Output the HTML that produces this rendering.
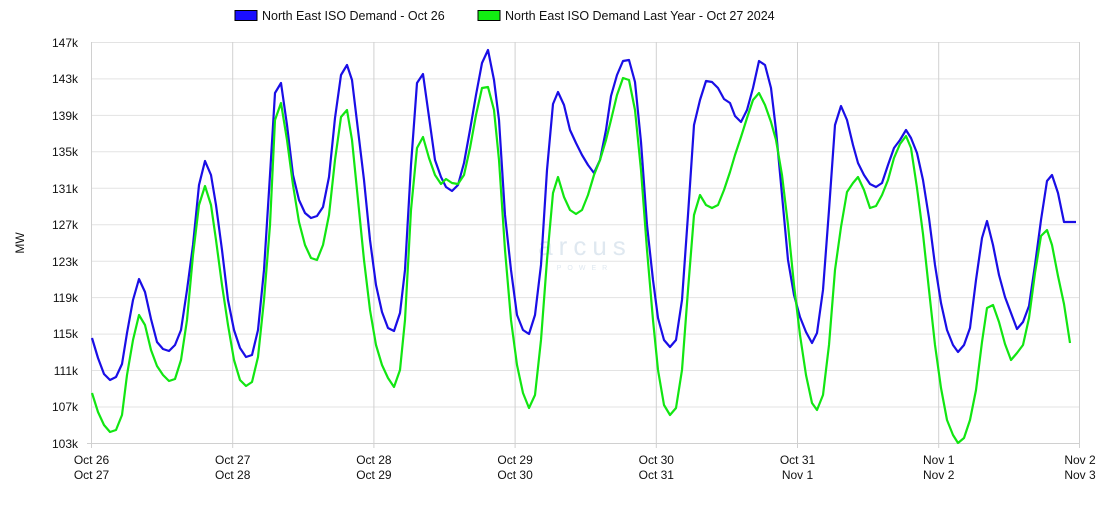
<!DOCTYPE html>
<html><head><meta charset="utf-8"><style>
body{margin:0;background:#fff;}
svg{font-family:"Liberation Sans",Arial,sans-serif;}
</style></head><body>
<svg width="1100" height="500" xmlns="http://www.w3.org/2000/svg">
<rect width="1100" height="500" fill="#fff"/>
<g stroke="#e3e3e3" stroke-width="1">
<line x1="91.5" x2="1080" y1="42.5" y2="42.5"/>
<line x1="91.5" x2="1080" y1="78.9" y2="78.9"/>
<line x1="91.5" x2="1080" y1="115.4" y2="115.4"/>
<line x1="91.5" x2="1080" y1="151.8" y2="151.8"/>
<line x1="91.5" x2="1080" y1="188.3" y2="188.3"/>
<line x1="91.5" x2="1080" y1="224.7" y2="224.7"/>
<line x1="91.5" x2="1080" y1="261.2" y2="261.2"/>
<line x1="91.5" x2="1080" y1="297.6" y2="297.6"/>
<line x1="91.5" x2="1080" y1="334.1" y2="334.1"/>
<line x1="91.5" x2="1080" y1="370.5" y2="370.5"/>
<line x1="91.5" x2="1080" y1="407" y2="407"/>
</g>
<g stroke="#d0d0d0" stroke-width="1">
<line x1="232.7" x2="232.7" y1="42" y2="448"/>
<line x1="373.9" x2="373.9" y1="42" y2="448"/>
<line x1="515.1" x2="515.1" y1="42" y2="448"/>
<line x1="656.3" x2="656.3" y1="42" y2="448"/>
<line x1="797.5" x2="797.5" y1="42" y2="448"/>
<line x1="938.7" x2="938.7" y1="42" y2="448"/>
<line x1="1079.5" x2="1079.5" y1="42" y2="448"/>
<line x1="91.5" x2="91.5" y1="42" y2="448"/>
<line x1="87" x2="1080" y1="443.5" y2="443.5"/>
</g>
<g font-size="12" fill="#111" text-anchor="end">
<text x="78" y="47">147k</text><text x="78" y="83">143k</text><text x="78" y="120">139k</text>
<text x="78" y="156">135k</text><text x="78" y="193">131k</text><text x="78" y="229">127k</text>
<text x="78" y="266">123k</text><text x="78" y="302">119k</text><text x="78" y="338">115k</text>
<text x="78" y="375">111k</text><text x="78" y="411">107k</text><text x="78" y="448">103k</text>
</g>
<g font-size="12" fill="#111" text-anchor="middle">
<text x="91.5" y="464">Oct 26</text><text x="91.5" y="479">Oct 27</text>
<text x="232.7" y="464">Oct 27</text><text x="232.7" y="479">Oct 28</text>
<text x="373.9" y="464">Oct 28</text><text x="373.9" y="479">Oct 29</text>
<text x="515.1" y="464">Oct 29</text><text x="515.1" y="479">Oct 30</text>
<text x="656.3" y="464">Oct 30</text><text x="656.3" y="479">Oct 31</text>
<text x="797.5" y="464">Oct 31</text><text x="797.5" y="479">Nov 1</text>
<text x="938.7" y="464">Nov 1</text><text x="938.7" y="479">Nov 2</text>
<text x="1080" y="464">Nov 2</text><text x="1080" y="479">Nov 3</text>
</g>
<text x="24" y="243" font-size="12" fill="#111" text-anchor="middle" transform="rotate(-90 24 243)">MW</text>
<text x="585" y="255" font-size="26" fill="#dfe8f0" text-anchor="middle" letter-spacing="6">arcus</text>
<text x="585" y="270" font-size="7" fill="#dfe8f0" text-anchor="middle" letter-spacing="6">POWER</text>
<polyline fill="none" stroke="#1a0ee6" stroke-width="2.2" stroke-linejoin="round" points="92,338 98,358 104,374 110,380 116,377 122,364 127,333 133,300 139,279 145,292 151,319 157,342 163,349 169,351 175,345 181,330 187,290 193,245 199,185 205,161 211,175 216,205 222,250 228,300 234,330 240,348 246,357 252,355 258,330 264,270 270,175 275,93 281,83 287,125 293,175 299,200 305,213 311,218 317,216 323,207 329,177 335,118 341,75 347,65 352,80 358,130 364,180 370,240 376,285 382,312 388,328 394,331 400,313 405,270 411,165 417,83 423,74 429,117 435,160 441,177 446,187 452,191 458,185 464,163 470,130 476,95 482,63 488,50 494,80 499,120 505,215 511,270 517,315 523,330 529,334 535,315 541,265 547,170 553,104 558,92 564,105 570,130 576,143 582,155 588,165 594,173 600,160 606,130 611,96 617,75 623,61 629,60 635,82 641,142 647,225 653,280 658,318 664,340 670,347 676,340 682,300 688,215 694,125 700,100 706,81 712,82 718,88 724,99 730,103 735,116 741,122 747,110 753,88 759,61 765,65 771,88 776,130 782,195 788,260 794,295 800,317 806,332 812,343 817,333 823,290 829,210 835,125 841,106 847,120 853,145 858,163 864,175 870,184 876,187 882,183 888,165 894,148 900,140 906,130 911,138 917,153 923,180 929,218 935,265 941,303 947,330 953,345 958,352 964,345 970,328 976,280 982,238 987,221 993,245 999,275 1005,297 1011,313 1017,329 1023,322 1029,306 1035,265 1041,220 1047,181 1052,175 1058,193 1064,222 1070,222 1076,222"/>
<polyline fill="none" stroke="#12e612" stroke-width="2.2" stroke-linejoin="round" points="92,393 98,412 104,425 110,432 116,430 122,415 127,375 133,340 139,315 145,325 151,350 157,366 163,375 169,381 175,379 181,360 187,320 193,255 199,205 205,186 211,205 216,240 222,285 228,325 234,360 240,380 246,386 252,382 258,357 264,300 270,225 275,120 281,103 287,140 293,185 299,222 305,245 311,258 317,260 323,245 329,215 335,160 341,117 347,110 352,140 358,200 364,260 370,310 376,345 382,365 388,378 394,387 400,370 405,320 411,210 417,148 423,137 429,158 435,175 441,184 446,179 452,183 458,184 464,175 470,148 476,115 482,88 488,87 494,110 499,160 505,250 511,320 517,365 523,393 529,408 535,395 541,340 547,260 553,193 558,177 564,197 570,210 576,214 582,210 588,195 594,175 600,160 606,140 611,120 617,95 623,78 629,80 635,110 641,170 647,250 653,320 658,370 664,405 670,415 676,408 682,370 688,290 694,215 700,195 706,205 712,208 718,205 724,190 730,172 735,155 741,137 747,118 753,100 759,93 765,105 771,122 776,140 782,175 788,225 794,285 800,335 806,375 812,403 817,410 823,395 829,345 835,270 841,227 847,192 853,183 858,177 864,190 870,208 876,206 882,195 888,180 894,158 900,144 906,136 911,148 917,188 923,234 929,290 935,345 941,388 947,420 953,435 958,443 964,438 970,420 976,390 982,342 987,308 993,305 999,322 1005,344 1011,360 1017,353 1023,345 1029,318 1035,273 1041,236 1047,230 1052,245 1058,276 1064,304 1070,343"/>
<rect x="235" y="10.5" width="22" height="10" fill="#1a0eff" stroke="#000" stroke-width="1"/>
<text x="262" y="20" font-size="12.5" fill="#111">North East ISO Demand - Oct 26</text>
<rect x="478" y="10.5" width="22" height="10" fill="#12ee12" stroke="#000" stroke-width="1"/>
<text x="505" y="20" font-size="12.5" fill="#111">North East ISO Demand Last Year - Oct 27 2024</text>
</svg>
</body></html>
